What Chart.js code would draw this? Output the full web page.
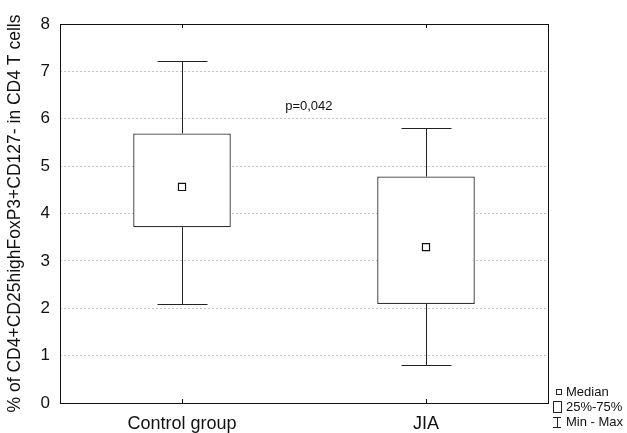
<!DOCTYPE html>
<html>
<head>
<meta charset="utf-8">
<script src="https://cdn.jsdelivr.net/npm/chart.js@4"></script>
<style>
  html, body { margin: 0; padding: 0; background: #fff; }
  #wrap { position: relative; width: 627px; height: 433px; }
</style>
</head>
<body>
<div id="wrap"><canvas id="boxChart" width="627" height="433"></canvas></div>
<script>
// values
const categories = ['Control group', 'JIA'];
const minVals = [2.1, 0.81];
const q1Vals = [3.71, 2.09];
const medianVals = [4.56, 3.29];
const q3Vals = [5.69, 4.78];
const maxVals = [7.22, 5.8];
const yTicks = [0, 1, 2, 3, 4, 5, 6, 7, 8];
const pLabel = 'p=0,042';
const legendLabels = ['Median', '25%-75%', 'Min - Max'];

const FONT = 'Liberation Sans, Arial, Helvetica, sans-serif';

// whiskers, frame, p-value and the little legend
const boxExtras = {
  id: 'boxExtras',
  afterDatasetsDraw(chart) {
    const { ctx, scales: { x, y } } = chart;
    ctx.save();
    ctx.strokeStyle = '#222';
    ctx.lineWidth = 1;
    categories.forEach((c, i) => {
      const cx = Math.round(x.getPixelForValue(i)) + 0.5;
      const half = 25;
      const yMax = Math.round(y.getPixelForValue(maxVals[i])) + 0.5;
      const yMin = Math.round(y.getPixelForValue(minVals[i])) + 0.5;
      ctx.beginPath();
      ctx.moveTo(cx, y.getPixelForValue(q3Vals[i]));
      ctx.lineTo(cx, yMax);
      ctx.moveTo(cx, y.getPixelForValue(q1Vals[i]));
      ctx.lineTo(cx, yMin);
      ctx.moveTo(cx - half, yMax); ctx.lineTo(cx + half, yMax);
      ctx.moveTo(cx - half, yMin); ctx.lineTo(cx + half, yMin);
      ctx.stroke();
    });
    ctx.restore();
  },
  afterDraw(chart) {
    const { ctx, chartArea: a, scales: { x, y } } = chart;
    ctx.save();
    ctx.strokeStyle = '#111';
    ctx.lineWidth = 1;
    ctx.strokeRect(Math.round(a.left) + 0.5, Math.round(a.top) + 0.5,
      Math.round(a.right - a.left), Math.round(a.bottom - a.top));
    // tick marks at category centres, inside the frame
    ctx.beginPath();
    categories.forEach((c, i) => {
      const cx = Math.round(x.getPixelForValue(i)) + 0.5;
      ctx.moveTo(cx, a.top); ctx.lineTo(cx, a.top + 4);
      ctx.moveTo(cx, a.bottom); ctx.lineTo(cx, a.bottom - 4);
    });
    ctx.stroke();

    // p-value
    ctx.fillStyle = '#111';
    ctx.font = '13px ' + FONT;
    ctx.textAlign = 'center';
    ctx.textBaseline = 'middle';
    ctx.fillText(pLabel, x.getPixelForValue(0.52), y.getPixelForValue(6.25));

    // legend, bottom right
    const lx = 553, ly = [392, 407, 422];
    ctx.textAlign = 'left';
    ctx.font = '13px ' + FONT;
    ctx.strokeStyle = '#222';
    ctx.strokeRect(556.5, 389.5, 5, 5);
    ctx.strokeRect(553.5, 401.5, 8, 11);
    ctx.beginPath();
    ctx.moveTo(553, 417.5); ctx.lineTo(561, 417.5);
    ctx.moveTo(557.5, 417.5); ctx.lineTo(557.5, 427.5);
    ctx.moveTo(553, 427.5); ctx.lineTo(561, 427.5);
    ctx.stroke();
    legendLabels.forEach((t, i) => ctx.fillText(t, lx + 13, ly[i]));
    ctx.restore();
  }
};

const ctx = document.getElementById('boxChart').getContext('2d');
new Chart(ctx, {
  type: 'bar',
  data: {
    labels: categories,
    datasets: [
      {
        type: 'line',
        label: 'Median',
        data: medianVals,
        showLine: false,
        pointStyle: 'rect',
        pointRadius: 5,
        pointBackgroundColor: '#fff',
        pointBorderColor: '#111',
        pointBorderWidth: 1.2,
        order: 0
      },
      {
        label: '25%-75%',
        data: categories.map((c, i) => [q1Vals[i], q3Vals[i]]),
        backgroundColor: '#fff',
        borderColor: '#333',
        borderWidth: 1.3,
        borderSkipped: false,
        barPercentage: 0.4,
        categoryPercentage: 1,
        order: 1
      }
    ]
  },
  plugins: [boxExtras],
  options: {
    responsive: false,
    animation: false,
    layout: { padding: { left: 0, right: 79, top: 24, bottom: 0 } },
    plugins: {
      legend: { display: false },
      tooltip: { enabled: false }
    },
    scales: {
      x: {
        type: 'category',
        offset: true,
        grid: { display: false },
        border: { display: false },
        ticks: { color: '#111', font: { family: FONT, size: 18 }, padding: 2 },
        afterFit(scale) { scale.height = 30; }
      },
      y: {
        min: 0,
        max: 8,
        afterBuildTicks(scale) { scale.ticks = yTicks.map(v => ({ value: v })); },
        grid: { color: '#c4c4c4', lineWidth: 1, drawTicks: false },
        border: { display: false, dash: [2, 2] },
        ticks: { color: '#111', font: { family: FONT, size: 17 }, padding: 10 },
        title: {
          display: true,
          text: '% of CD4+CD25highFoxP3+CD127- in CD4 T cells',
          color: '#111',
          font: { family: FONT, size: 17.5 },
          padding: { top: 5, bottom: 0 }
        },
        afterFit(scale) { scale.width = 60; }
      }
    }
  }
});
</script>
</body>
</html>
